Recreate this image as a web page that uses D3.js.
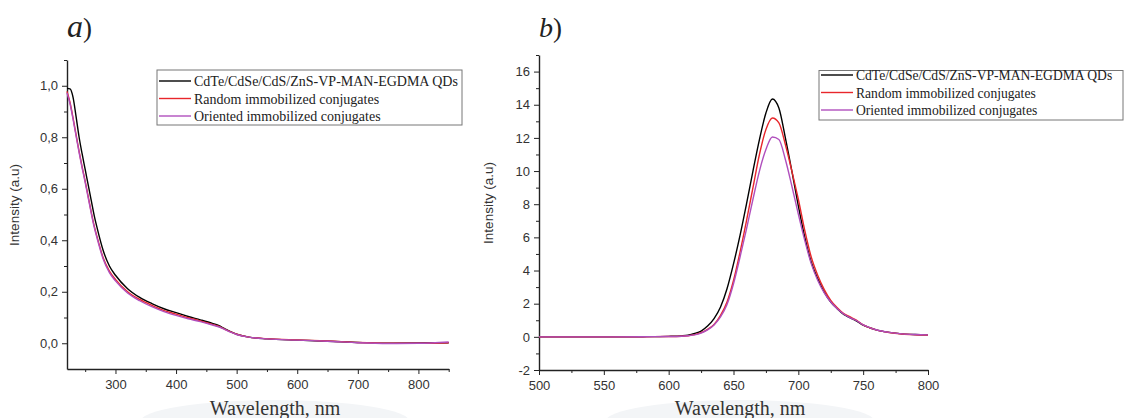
<!DOCTYPE html>
<html>
<head>
<meta charset="utf-8">
<script src="https://cdn.jsdelivr.net/npm/d3@7/dist/d3.min.js"></script>
<style>
  body { margin: 0; background: #fff; }
  svg { display: block; }
  .tick text { font-family: "Liberation Sans", Arial, sans-serif; font-size: 13px; fill: #333; }
  .tick line, .domain { stroke: #222; }
</style>
</head>
<body>
<div id="chart"></div>
<script>
const W = 1126;
const H = 418;

// panel a: absorption
const absWl = [220, 225, 230, 235, 240, 245, 250, 255, 260, 265, 270, 280, 290, 300, 320, 340, 360, 380, 400, 420, 440, 460, 470, 480, 490, 500, 520, 550, 600, 650, 700, 750, 800, 850];
const absQDs = [0.99, 0.988, 0.955, 0.88, 0.8, 0.735, 0.675, 0.615, 0.555, 0.495, 0.445, 0.358, 0.3, 0.264, 0.212, 0.178, 0.154, 0.134, 0.119, 0.104, 0.091, 0.077, 0.069, 0.057, 0.045, 0.035, 0.024, 0.017, 0.012, 0.008, 0.003, 0.0, 0.001, 0.002];
const absRandom = [0.978, 0.935, 0.875, 0.81, 0.745, 0.685, 0.63, 0.57, 0.51, 0.455, 0.41, 0.33, 0.28, 0.248, 0.2, 0.17, 0.147, 0.127, 0.113, 0.099, 0.087, 0.073, 0.066, 0.055, 0.044, 0.035, 0.024, 0.018, 0.013, 0.009, 0.003, 0.0, 0.0, 0.002];
const absOriented = [0.972, 0.93, 0.87, 0.805, 0.74, 0.68, 0.625, 0.565, 0.505, 0.45, 0.405, 0.325, 0.274, 0.242, 0.195, 0.165, 0.142, 0.123, 0.108, 0.095, 0.084, 0.071, 0.064, 0.054, 0.043, 0.034, 0.024, 0.017, 0.012, 0.008, 0.002, -0.001, 0.0, 0.005];

// panel b: photoluminescence
const plWl = [500, 550, 580, 600, 610, 615, 620, 625, 630, 635, 640, 645, 650, 655, 660, 665, 670, 675, 680, 685, 690, 695, 700, 705, 710, 715, 720, 725, 730, 735, 740, 745, 750, 755, 760, 770, 780, 790, 800];
const plQDs = [0, 0, 0.01, 0.03, 0.06, 0.1, 0.2, 0.35, 0.65, 1.1, 1.8, 2.9, 4.4, 6.1, 8.0, 10.0, 11.9, 13.5, 14.35, 13.8, 12.0, 10.0, 7.9, 6.0, 4.5, 3.5, 2.7, 2.1, 1.7, 1.35, 1.15, 0.95, 0.7, 0.55, 0.42, 0.27, 0.18, 0.14, 0.12];
const plRandom = [0, 0, 0.01, 0.02, 0.04, 0.07, 0.13, 0.25, 0.45, 0.75, 1.3, 2.1, 3.4, 5.1, 7.0, 9.0, 11.0, 12.5, 13.2, 12.9, 11.6, 10.0, 8.3, 6.4, 4.8, 3.7, 2.85, 2.2, 1.75, 1.4, 1.2, 1.0, 0.72, 0.55, 0.42, 0.26, 0.17, 0.13, 0.11];
const plOriented = [0, 0, 0.01, 0.02, 0.04, 0.07, 0.12, 0.23, 0.42, 0.72, 1.2, 1.95, 3.2, 4.8, 6.5, 8.3, 10.0, 11.3, 12.05, 11.9, 10.7, 9.1, 7.4, 5.8, 4.4, 3.4, 2.65, 2.1, 1.7, 1.38, 1.15, 0.97, 0.72, 0.56, 0.43, 0.27, 0.18, 0.14, 0.12];

const seriesNames = ['CdTe/CdSe/CdS/ZnS-VP-MAN-EGDMA QDs', 'Random immobilized conjugates', 'Oriented immobilized conjugates'];
const seriesColors = ['#000000', '#e8262b', '#b04fbd'];

const svg = d3.select('#chart')
  .append('svg')
  .attr('width', W)
  .attr('height', H);

drawPanel = (p) => {
  const x = d3.scaleLinear().domain(p.xDomain).range(p.xRange);
  const y = d3.scaleLinear().domain(p.yDomain).range(p.yRange);
  const g = svg.append('g');

  // faint halo behind the x title, as in the scan
  g.append('ellipse')
    .attr('cx', p.titleX)
    .attr('cy', 422)
    .attr('rx', 135)
    .attr('ry', 22)
    .style('fill', '#f3f5f7');

  // minor ticks
  g.append('g')
    .attr('transform', `translate(0,${p.yRange[0]})`)
    .call(d3.axisBottom(x).tickValues(p.xMinor).tickSize(3).tickFormat(''))
    .call(s => s.select('.domain').remove());
  g.append('g')
    .attr('transform', `translate(${p.xRange[0]},0)`)
    .call(d3.axisLeft(y).tickValues(p.yMinor).tickSize(3).tickFormat(''))
    .call(s => s.select('.domain').remove());

  // major ticks
  g.append('g')
    .attr('transform', `translate(0,${p.yRange[0]})`)
    .call(d3.axisBottom(x).tickValues(p.xMajor).tickSize(5).tickSizeOuter(0).tickPadding(6).tickFormat(d => d));
  g.append('g')
    .attr('transform', `translate(${p.xRange[0]},0)`)
    .call(d3.axisLeft(y).tickValues(p.yMajor).tickSize(5).tickSizeOuter(0).tickPadding(4).tickFormat(p.yFmt));

  g.selectAll('.domain').style('stroke-width', 1.4);

  const line = d3.line()
    .x((d, i) => x(p.wl[i]))
    .y(d => y(d))
    .curve(d3.curveMonotoneX);

  p.series.forEach((s, i) => {
    g.append('path')
      .datum(s)
      .attr('d', line)
      .style('fill', 'none')
      .style('stroke', seriesColors[i])
      .style('stroke-width', 1.4);
  });

  // legend
  const lg = g.append('g');
  lg.append('rect')
    .attr('x', p.legend.x)
    .attr('y', p.legend.y)
    .attr('width', p.legend.w)
    .attr('height', p.legend.h)
    .style('fill', '#fff')
    .style('stroke', '#777')
    .style('stroke-width', 1);
  seriesNames.forEach((name, i) => {
    const ry = p.legend.y + p.legend.first + i * 17.5;
    lg.append('line')
      .attr('x1', p.legend.x + 2)
      .attr('x2', p.legend.x + 34)
      .attr('y1', ry)
      .attr('y2', ry)
      .style('stroke', seriesColors[i])
      .style('stroke-width', 1.4);
    lg.append('text')
      .attr('x', p.legend.x + 37)
      .attr('y', ry + 5)
      .style('font-family', '"Liberation Serif", "Times New Roman", serif')
      .style('font-size', p.legend.font + 'px')
      .style('fill', '#222')
      .text(name);
  });

  // axis titles
  g.append('text')
    .attr('transform', `translate(${p.yTitleX},${p.yTitleY}) rotate(-90)`)
    .attr('text-anchor', 'middle')
    .style('font-family', '"Liberation Sans", Arial, sans-serif')
    .style('font-size', '13.5px')
    .style('fill', '#333')
    .text('Intensity (a.u)');

  g.append('text')
    .attr('x', p.titleX)
    .attr('y', 415)
    .attr('text-anchor', 'middle')
    .style('font-family', '"Liberation Serif", "Times New Roman", serif')
    .style('font-size', '20px')
    .style('fill', '#333')
    .text('Wavelength, nm');

  // panel letter
  const lt = g.append('text')
    .attr('x', p.xRange[0])
    .attr('y', 37)
    .style('font-family', '"Liberation Serif", "Times New Roman", serif')
    .style('fill', '#222');
  lt.append('tspan').style('font-style', 'italic').style('font-size', p.letterSize + 'px').text(p.letter);
  lt.append('tspan').style('font-size', '27px').text(')');
}

const commaFmt = d => d3.format('.1f')(d).replace('.', ',');

drawPanel({
  letter: 'a',
  letterSize: 32,
  wl: absWl,
  series: [absQDs, absRandom, absOriented],
  xDomain: [220, 850], xRange: [67, 448.7],
  yDomain: [-0.1, 1.1], yRange: [369, 60],
  xMajor: [300, 400, 500, 600, 700, 800],
  xMinor: [250, 350, 450, 550, 650, 750, 850],
  yMajor: [0, 0.2, 0.4, 0.6, 0.8, 1.0],
  yMinor: [0.1, 0.3, 0.5, 0.7, 0.9, 1.1],
  yFmt: commaFmt,
  legend: { x: 157, y: 70, w: 305, h: 55, first: 11, font: 14 },
  yTitleX: 19, yTitleY: 205,
  titleX: 275
});

drawPanel({
  letter: 'b',
  letterSize: 28,
  wl: plWl,
  series: [plQDs, plRandom, plOriented],
  xDomain: [500, 800], xRange: [539, 928],
  yDomain: [-2, 17], yRange: [370, 55],
  xMajor: [500, 550, 600, 650, 700, 750, 800],
  xMinor: [525, 575, 625, 675, 725, 775],
  yMajor: [-2, 0, 2, 4, 6, 8, 10, 12, 14, 16],
  yMinor: [-1, 1, 3, 5, 7, 9, 11, 13, 15, 17],
  yFmt: d => String(d),
  legend: { x: 819, y: 70.5, w: 304, h: 49.5, first: 4.5, font: 13.6 },
  yTitleX: 493, yTitleY: 203,
  titleX: 740
});
</script>
</body>
</html>
